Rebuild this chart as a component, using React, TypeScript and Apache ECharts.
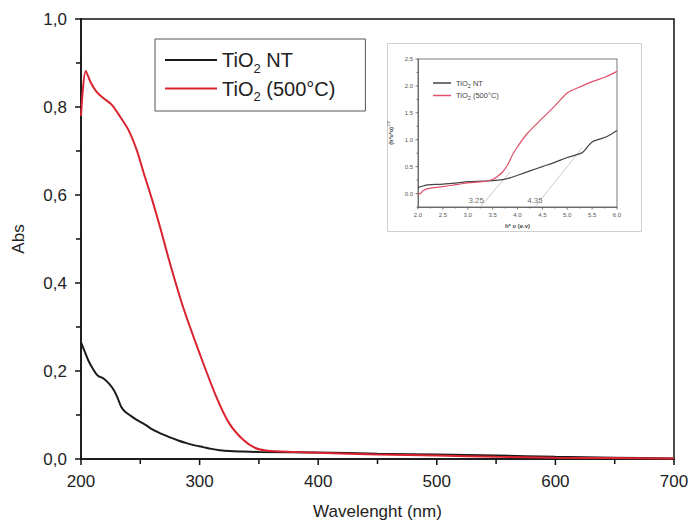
import React, { useEffect, useRef } from "react";
import * as echarts from "echarts";

// Main chart: wavelength (nm) vs absorbance
const ntWavelength = [200, 203, 206, 210, 214, 219, 224, 228, 231, 234, 237, 242, 247, 254, 261, 268, 275, 282, 289, 296, 303, 310, 317, 325, 335, 350, 400, 450, 500, 550, 600, 650, 700];
const ntAbs = [0.265, 0.245, 0.225, 0.205, 0.19, 0.183, 0.17, 0.155, 0.138, 0.118, 0.108, 0.098, 0.089, 0.078, 0.066, 0.057, 0.049, 0.042, 0.036, 0.031, 0.027, 0.023, 0.02, 0.018, 0.017, 0.016, 0.015, 0.012, 0.01, 0.008, 0.005, 0.003, 0.001];

const c500Wavelength = [200, 204, 208, 213, 219, 226, 233, 240, 247, 253, 260, 267, 275, 286, 300, 314, 325, 337, 347, 357, 380, 400, 450, 500, 550, 600, 650, 700];
const c500Abs = [0.78, 0.882, 0.857, 0.835, 0.82, 0.805, 0.778, 0.748, 0.702, 0.649, 0.589, 0.524, 0.445, 0.346, 0.24, 0.142, 0.081, 0.043, 0.025, 0.019, 0.016, 0.014, 0.01, 0.008, 0.005, 0.003, 0.002, 0.001];

// Inset: Tauc plot
const insetNtEnergy = [2.0, 2.1, 2.2, 2.5, 2.8, 3.0, 3.3, 3.5, 3.7, 3.85, 4.0, 4.25, 4.5, 4.75, 5.0, 5.3, 5.4, 5.5, 5.65, 5.8, 6.0];
const insetNtValue = [0.11, 0.14, 0.16, 0.175, 0.2, 0.22, 0.23, 0.24, 0.26, 0.29, 0.34, 0.42, 0.5, 0.58, 0.67, 0.76, 0.86, 0.96, 1.01, 1.06, 1.17];
const insetC500Energy = [2.0, 2.05, 2.1, 2.2, 2.5, 2.8, 3.0, 3.3, 3.5, 3.6, 3.7, 3.8, 3.9, 4.0, 4.2, 4.5, 4.75, 5.0, 5.2, 5.5, 5.75, 6.0];
const insetC500Value = [-0.01, 0.0, 0.05, 0.09, 0.13, 0.17, 0.2, 0.22, 0.26, 0.32, 0.4, 0.53, 0.72, 0.87, 1.12, 1.4, 1.63, 1.87, 1.96, 2.08, 2.16, 2.27];
const tangent1 = [[3.25, -0.25], [3.85, 0.4]];
const tangent2 = [[4.35, -0.25], [5.3, 0.85]];
const gapLabels = [[3.17, -0.12, "3.25"], [4.35, -0.12, "4.35"]];

// Axis ranges and tick positions
const xTicksMain = { min: 200, max: 700, interval: 100 };
const yTicksMain = { min: 0, max: 1, interval: 0.2 };
const xMajorMain = [200, 300, 400, 500, 600, 700];
const xMinorMain = [250, 350, 450, 550, 650];
const yMajorMain = [0, 0.2, 0.4, 0.6, 0.8, 1.0];
const yMinorMain = [0.1, 0.3, 0.5, 0.7, 0.9];

const xTicksInset = { min: 2, max: 6, interval: 0.5 };
const yTicksInset = { min: -0.25, max: 2.5, interval: 0.25 };
const xMajorInset = [2.0, 2.5, 3.0, 3.5, 4.0, 4.5, 5.0, 5.5, 6.0];
const xMinorInset = [2.25, 2.75, 3.25, 3.75, 4.25, 4.75, 5.25, 5.75];
const yMajorInset = [0, 0.5, 1.0, 1.5, 2.0, 2.5];
const yMinorInset = [-0.25, 0.25, 0.75, 1.25, 1.75, 2.25];

const zip = (a: number[], b: number[]) => a.map((v, i) => [v, b[i]]);

const FONT = "Liberation Sans, Arial, sans-serif";

const legendFmt = (name: string) => {
  if (name === "TiO2 NT") return "{a|TiO}{s|2}{a| NT}";
  return "{a|TiO}{s|2}{a| (500°C)}";
};

// Tick marks drawn as a custom series through the axes' own scales
const tickSeries = (
  dir: "x" | "y",
  major: number[],
  minor: number[],
  base: number,
  majorLen: number,
  minorLen: number,
  color: string,
  width: number
) => ({
  type: "custom",
  silent: true,
  clip: false,
  z: 10,
  encode: { x: 0, y: 1 },
  data: [
    ...major.map((v) => (dir === "x" ? [v, base, 1] : [base, v, 1])),
    ...minor.map((v) => (dir === "x" ? [v, base, 0] : [base, v, 0])),
  ],
  renderItem: (_params: any, api: any) => {
    const p = api.coord([api.value(0), api.value(1)]);
    const len = api.value(2) === 1 ? majorLen : minorLen;
    const shape =
      dir === "x"
        ? { x1: p[0], y1: p[1], x2: p[0], y2: p[1] + len }
        : { x1: p[0], y1: p[1], x2: p[0] - len, y2: p[1] };
    return { type: "line", shape, style: { stroke: color, lineWidth: width } };
  },
});

const mainAxisStyle = {
  axisLine: { show: true, onZero: false, lineStyle: { color: "#111", width: 1.5 } },
  axisTick: { show: false },
  minorTick: { show: false },
  splitLine: { show: false },
};

const insetAxisStyle = {
  axisLine: { show: true, onZero: false, lineStyle: { color: "#555", width: 0.8 } },
  axisTick: { show: false },
  minorTick: { show: false },
  splitLine: { show: false },
};

const mainOption: any = {
  animation: false,
  grid: { left: 81, top: 19, width: 593, height: 440, show: true, borderColor: "#111", borderWidth: 1.5, outerBoundsMode: "none" },
  legend: {
    orient: "vertical",
    left: 155,
    top: 39,
    padding: [11, 30, 8, 10],
    itemGap: 4,
    itemWidth: 52,
    itemHeight: 2,
    icon: "rect",
    borderColor: "#555",
    borderWidth: 1,
    backgroundColor: "#fff",
    data: ["TiO2 NT", "TiO2 (500°C)"],
    formatter: legendFmt,
    textStyle: {
      rich: {
        a: { fontSize: 20, color: "#222", fontFamily: FONT },
        s: { fontSize: 13, color: "#222", fontFamily: FONT, padding: [16, 0, 0, 0] },
      },
    },
    selectedMode: false,
  },
  xAxis: {
    type: "value",
    ...xTicksMain,
    name: "Wavelenght (nm)",
    nameLocation: "middle",
    nameGap: 44,
    nameTextStyle: { fontSize: 17, color: "#222", fontFamily: FONT },
    ...mainAxisStyle,
    axisLabel: { show: true, fontSize: 17, color: "#222", margin: 14, fontFamily: FONT },
  },
  yAxis: {
    type: "value",
    ...yTicksMain,
    name: "Abs",
    nameLocation: "middle",
    nameGap: 54,
    nameTextStyle: { fontSize: 17, color: "#222", fontFamily: FONT },
    ...mainAxisStyle,
    axisLabel: { show: true, fontSize: 17, color: "#222", margin: 14, fontFamily: FONT, formatter: (v: number) => v.toFixed(1).replace(".", ",") },
  },
  series: [
    {
      name: "TiO2 NT",
      type: "line",
      data: zip(ntWavelength, ntAbs),
      showSymbol: false,
      smooth: 0.3,
      lineStyle: { color: "#1a1a1a", width: 2 },
      itemStyle: { color: "#1a1a1a" },
      z: 3,
    },
    {
      name: "TiO2 (500°C)",
      type: "line",
      data: zip(c500Wavelength, c500Abs),
      showSymbol: false,
      smooth: 0.3,
      lineStyle: { color: "#d9232e", width: 2 },
      itemStyle: { color: "#d9232e" },
      z: 4,
    },
    tickSeries("x", xMajorMain, xMinorMain, xTicksMain.min === 200 ? yTicksMain.min : 0, 6, 5, "#111", 1.5),
    tickSeries("y", yMajorMain, yMinorMain, xTicksMain.min, 6, 5, "#111", 1.5),
  ],
};

const insetOption: any = {
  animation: false,
  backgroundColor: "#fff",
  graphic: [
    {
      type: "rect",
      shape: { x: 0.5, y: 0.5, width: 254, height: 188 },
      style: { fill: "none", stroke: "#cfcfcf", lineWidth: 1 },
      silent: true,
    },
  ],
  grid: { left: 31, top: 16, width: 199, height: 148, show: true, borderColor: "#555", borderWidth: 0.8, outerBoundsMode: "none" },
  legend: {
    orient: "vertical",
    left: 44,
    top: 34,
    padding: 2,
    itemGap: 3,
    itemWidth: 18,
    itemHeight: 1.5,
    icon: "rect",
    data: ["TiO2 NT", "TiO2 (500°C)"],
    formatter: legendFmt,
    textStyle: {
      rich: {
        a: { fontSize: 7.5, color: "#444", fontFamily: FONT },
        s: { fontSize: 5.5, color: "#444", fontFamily: FONT, padding: [5, 0, 0, 0] },
      },
    },
    selectedMode: false,
  },
  xAxis: {
    type: "value",
    ...xTicksInset,
    name: "h* υ (e.v)",
    nameLocation: "middle",
    nameGap: 14,
    nameTextStyle: { fontSize: 6, color: "#444", fontWeight: "bold", fontFamily: FONT },
    ...insetAxisStyle,
    axisLabel: { show: true, fontSize: 6, color: "#555", margin: 5, fontFamily: FONT, formatter: (v: number) => v.toFixed(1) },
  },
  yAxis: {
    type: "value",
    ...yTicksInset,
    name: "{a|(h*υ*α)}{s|1/2}",
    nameLocation: "middle",
    nameGap: 17,
    nameTextStyle: {
      rich: {
        a: { fontSize: 5.5, color: "#444", fontWeight: "bold", fontFamily: FONT },
        s: { fontSize: 4, color: "#444", fontFamily: FONT, padding: [0, 0, 4, 0] },
      },
    },
    ...insetAxisStyle,
    axisLabel: {
      show: true,
      fontSize: 6,
      color: "#555",
      margin: 5,
      fontFamily: FONT,
      formatter: (v: number) => (Math.abs(Math.round(v * 2) - v * 2) < 1e-6 ? v.toFixed(1) : ""),
    },
  },
  series: [
    {
      name: "TiO2 NT",
      type: "line",
      data: zip(insetNtEnergy, insetNtValue),
      showSymbol: false,
      smooth: 0.3,
      lineStyle: { color: "#444", width: 1.2 },
      itemStyle: { color: "#444" },
      z: 6,
    },
    {
      name: "TiO2 (500°C)",
      type: "line",
      data: zip(insetC500Energy, insetC500Value),
      showSymbol: false,
      smooth: 0.3,
      lineStyle: { color: "#e0506a", width: 1.2 },
      itemStyle: { color: "#e0506a" },
      z: 6,
    },
    {
      type: "line",
      data: tangent1,
      showSymbol: false,
      lineStyle: { color: "#bbb", width: 0.8 },
      z: 5,
    },
    {
      type: "line",
      data: tangent2,
      showSymbol: false,
      lineStyle: { color: "#bbb", width: 0.8 },
      z: 5,
    },
    {
      type: "scatter",
      symbolSize: 0,
      data: gapLabels,
      label: {
        show: true,
        position: "inside",
        fontSize: 8,
        color: "#444",
        fontFamily: FONT,
        formatter: (p: any) => p.value[2],
      },
      z: 7,
    },
    tickSeries("x", xMajorInset, xMinorInset, yTicksInset.min, 2.5, 1.5, "#555", 0.8),
    tickSeries("y", yMajorInset, yMinorInset, xTicksInset.min, 2.5, 1.5, "#555", 0.8),
  ],
};

export default function App() {
  const mainRef = useRef<HTMLDivElement>(null);
  const insetRef = useRef<HTMLDivElement>(null);
  useEffect(() => {
    if (!mainRef.current || !insetRef.current) return;
    const main = echarts.init(mainRef.current, null, { renderer: "svg" });
    main.setOption(mainOption);
    const inset = echarts.init(insetRef.current, null, { renderer: "svg" });
    inset.setOption(insetOption);
    return () => {
      main.dispose();
      inset.dispose();
    };
  }, []);
  return (
    <div style={{ position: "fixed", left: 0, top: 0, width: 691, height: 522, background: "#fff" }}>
      <div ref={mainRef} style={{ position: "absolute", left: 0, top: 0, width: 691, height: 522 }} />
      <div ref={insetRef} style={{ position: "absolute", left: 387, top: 43, width: 255, height: 189 }} />
    </div>
  );
}
